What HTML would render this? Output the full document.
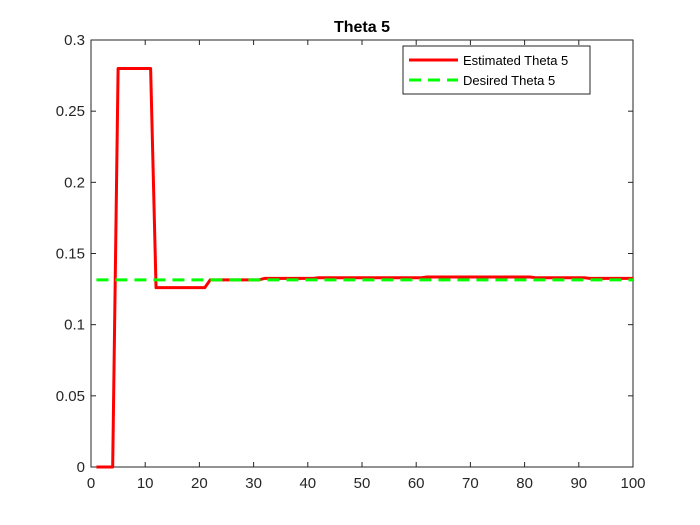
<!DOCTYPE html>
<html><head><meta charset="utf-8"><style>body{margin:0;background:#fff}svg{display:block;font-family:"Liberation Sans",sans-serif}</style></head>
<body>
<svg id="c" width="700" height="525"></svg>
<script>
const xs=[1,4,5,11,12,21,22,31,32,41,42,61,62,81,82,91,92,100];
const est=[0,0,0.28,0.28,0.126,0.126,0.1315,0.1315,0.1325,0.1325,0.133,0.133,0.1335,0.1335,0.133,0.133,0.1325,0.1325];
const desired=0.1315;
const xTicks=[0,10,20,30,40,50,60,70,80,90,100];
const yTicks=[0,0.05,0.1,0.15,0.2,0.25,0.3];
const L=91,R=633,T=40,B=467;
const X=v=>L+(v-0)/(100)*(R-L);
const Y=v=>B-(v/0.3)*(B-T);
const svg=document.getElementById('c');const NS='http://www.w3.org/2000/svg';
function mk(t,a,p){const e=document.createElementNS(NS,t);for(const k in a)e.setAttribute(k,a[k]);(p||svg).appendChild(e);return e;}
let e=mk('rect',{x:L,y:T,width:R-L,height:B-T,fill:'#fff',stroke:'#262626','stroke-width':1});


xTicks.forEach(t=>{const x=X(t);mk('line',{x1:x,x2:x,y1:B,y2:B-5,stroke:'#262626'});mk('line',{x1:x,x2:x,y1:T,y2:T+5,stroke:'#262626'});
const tx=mk('text',{x:x,y:B+21,'text-anchor':'middle','font-size':15,fill:'#262626'});tx.textContent=t;

});
yTicks.forEach(t=>{const y=Y(t);mk('line',{x1:L,x2:L+5,y1:y,y2:y,stroke:'#262626'});mk('line',{x1:R,x2:R-5,y1:y,y2:y,stroke:'#262626'});
const tx=mk('text',{x:L-6,y:y+5,'text-anchor':'end','font-size':15,fill:'#262626'});tx.textContent=String(t);

});
const pl=mk('polyline',{points:xs.map((x,i)=>X(x)+','+Y(est[i])).join(' '),fill:'none',stroke:'#ff0000','stroke-width':3,'stroke-linejoin':'round'});


const dl=mk('line',{x1:X(1),x2:X(100),y1:Y(desired),y2:Y(desired),stroke:'#00ff00','stroke-width':3,'stroke-dasharray':'12,7'});


const title=mk('text',{x:362,y:32,'text-anchor':'middle','font-size':16,'font-weight':'bold',fill:'#000'});title.textContent='Theta 5';


const lg=mk('g',{});


mk('rect',{x:403,y:46,width:187,height:48,fill:'#fff',stroke:'#262626'},lg);
mk('line',{x1:409,x2:458,y1:60,y2:60,stroke:'#ff0000','stroke-width':3},lg);
mk('line',{x1:409,x2:458,y1:80,y2:80,stroke:'#00ff00','stroke-width':3,'stroke-dasharray':'12,7'},lg);
let t1=mk('text',{x:463,y:65,'font-size':13,fill:'#000'},lg);t1.textContent='Estimated Theta 5';


let t2=mk('text',{x:463,y:85,'font-size':13,fill:'#000'},lg);t2.textContent='Desired Theta 5';


</script>
</body></html>
